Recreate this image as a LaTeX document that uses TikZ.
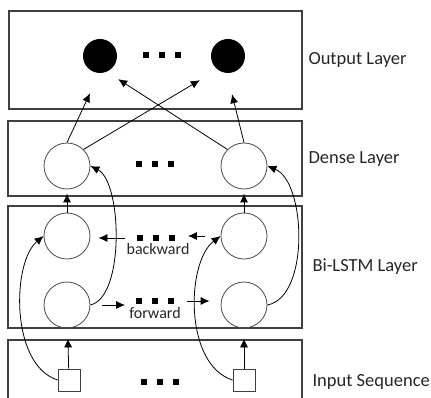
\documentclass[tikz,border=0pt]{standalone}
\usepackage{fontspec}
\setmainfont{Carlito}
\usepackage{tikz}
\usetikzlibrary{shapes,arrows.meta,positioning,calc}

\newcommand{\dotrow}{\rule{5.5pt}{5.5pt}\hspace{10.5pt}\rule{5.5pt}{5.5pt}\hspace{10.5pt}\rule{5.5pt}{5.5pt}}

\begin{document}
\begin{tikzpicture}[x=1pt, y=-1pt,
    layer/.style={rectangle, draw=black!75, line width=1.2pt, inner sep=0pt},
    unit/.style={circle, draw=black!70, line width=0.8pt, minimum size=46pt, inner sep=0pt},
    outunit/.style={circle, fill=black, minimum size=34pt, inner sep=0pt},
    inunit/.style={rectangle, draw=black!75, line width=0.8pt, minimum size=22pt, inner sep=0pt},
    dots/.style={inner sep=0pt},
    lbl/.style={anchor=west, text=black!85, font=\fontsize{18.5}{22}\selectfont},
    dir/.style={text=black!85, font=\fontsize{16}{19}\selectfont, inner sep=0pt},
    line/.style={draw, -{Latex[length=9pt,width=8pt]}, line width=0.8pt}]

    \clip (0,0) rectangle (431,398);

    % layer boxes
    \node [layer, minimum width=293pt, minimum height=98pt] (outbox) at (155.5,60) {};
    \node [layer, minimum width=294pt, minimum height=75pt] (densebox) at (155,158.5) {};
    \node [layer, minimum width=294pt, minimum height=122pt] (lstmbox) at (155,267) {};
    \node [layer, minimum width=294pt, minimum height=80pt] (inbox) at (155,380) {};

    \node [lbl] (outlbl) at (305,60) {Output Layer};
    \node [lbl] (denselbl) at (305,159) {Dense Layer};
    \node [lbl] (lstmlbl) at (309,267) {Bi-LSTM Layer};
    \node [lbl] (inlbl) at (309,382) {Input Sequence};

    % units
    \node [outunit] (o1) at (100,56) {};
    \node [outunit] (o2) at (228,56) {};
    \node [dots] (odots) at (162,55) {\dotrow};

    \node [unit] (d1) at (67,166) {};
    \node [unit] (d2) at (244,166) {};
    \node [dots] (ddots) at (155,164) {\dotrow};

    \node [unit] (b1) at (67,236) {};
    \node [unit] (b2) at (244,236) {};
    \node [dots] (bdots) at (156,238) {\dotrow};
    \node [dir] (bwd) at (158,249) {backward};

    \node [unit] (f1) at (67,305) {};
    \node [unit] (f2) at (244,305) {};
    \node [dots] (fdots) at (155,301) {\dotrow};
    \node [dir] (fwd) at (155,313) {forward};

    \node [inunit] (s1) at (69,380) {};
    \node [inunit] (s2) at (244,380) {};
    \node [dots] (idots) at (160,382) {\dotrow};

    % dense -> output
    \path [line] (d1.north) -- ([xshift=-10pt,yshift=-20pt]o1.south);
    \path [line] (d1.north east) -- ([xshift=-16pt,yshift=-12pt]o2.south west);
    \path [line] (d2.north west) -- ([xshift=6pt,yshift=-11pt]o1.south east);
    \path [line] (d2.north) -- ([xshift=4pt,yshift=-21pt]o2.south);

    % lstm -> dense
    \path [line, shorten >=4pt] (b1) -- (d1);
    \path [line, shorten >=4pt] (b2) -- (d2);
    \path [line] (f1.east) .. controls (125,297) and (122,182) .. (d1.east);
    \path [line] (f2.east) .. controls (310,297) and (306,182) .. (d2.east);

    % backward / forward
    \path [line, shorten <=12pt, shorten >=8pt] (bdots.west) -- (bdots.west -| b1.east);
    \path [line, shorten <=16pt, shorten >=13pt] (b2.west) -- (b2.west -| bdots.east);
    \path [line, shorten <=12pt, shorten >=11pt] (f1.east) -- (f1.east -| fdots.west);
    \path [line, shorten <=13pt, shorten >=11pt] (fdots.east) -- (fdots.east -| f2.west);

    % input -> lstm
    \path [line, shorten >=10pt] (s1) -- (f1);
    \path [line, shorten >=10pt] (s2) -- (f2);
    \path [line] (s1.west) .. controls (10,365) and (12,262) .. (b1.west);
    \path [line] (s2.west) .. controls (184,365) and (186,262) .. (b2.west);
\end{tikzpicture}
\end{document}
